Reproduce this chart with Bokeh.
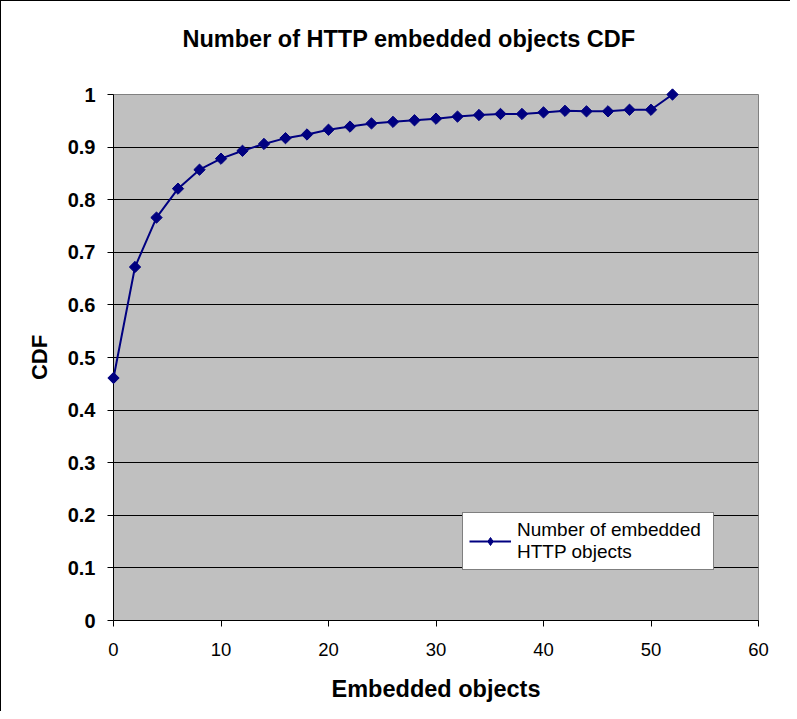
import numpy as np
from bokeh.plotting import figure
from bokeh.models import Range1d, FixedTicker, Legend, LegendItem, Title
from bokeh.embed import file_html
from bokeh.resources import INLINE

# ---- data ----
objects = [0, 2, 4, 6, 8, 10, 12, 14, 16, 18, 20, 22, 24, 26, 28, 30, 32, 34,
           36, 38, 40, 42, 44, 46, 48, 50, 52]
cdf = [0.461, 0.672, 0.766, 0.821, 0.857, 0.878, 0.893, 0.906, 0.917, 0.924,
       0.933, 0.939, 0.945, 0.948, 0.951, 0.954, 0.958, 0.961, 0.963, 0.963,
       0.966, 0.969, 0.968, 0.968, 0.971, 0.971, 1.0]
x_ticks = [0, 10, 20, 30, 40, 50, 60]
y_ticks = [0, 0.1, 0.2, 0.3, 0.4, 0.5, 0.6, 0.7, 0.8, 0.9, 1]
y_tick_labels = ["0", "0.1", "0.2", "0.3", "0.4", "0.5", "0.6", "0.7", "0.8", "0.9", "1"]
title_text = "Number of HTTP embedded objects CDF"
x_title = "Embedded objects"
y_title = "CDF"
series_name = "Number of embedded\nHTTP objects"

FONT = "Liberation Sans"
NAVY = "#000080"

p = figure(width=790, height=711, output_backend="svg", toolbar_location=None,
           x_range=Range1d(0, 60), y_range=Range1d(0, 1),
           min_border_left=112, min_border_right=33,
           min_border_top=93, min_border_bottom=92)

p.background_fill_color = "#C0C0C0"
p.border_fill_color = "white"
p.outline_line_color = "#808080"
p.outline_line_width = 1

# spacer panel between the frame and the title
spacer = Title(text=" ", text_font_size="1px", standoff=35)
p.add_layout(spacer, "above")
t = Title(text=title_text, align="left", offset=69, standoff=10,
          text_font=FONT, text_font_size="23.5px", text_font_style="bold",
          text_color="black")
p.add_layout(t, "above")

# axes
p.xaxis.ticker = FixedTicker(ticks=x_ticks)
p.yaxis.ticker = FixedTicker(ticks=y_ticks)
p.yaxis.major_label_overrides = {v: s for v, s in zip(y_ticks, y_tick_labels)}
for ax in (p.xaxis, p.yaxis):
    ax.axis_line_color = "black"
    ax.axis_line_width = 1
    ax.major_tick_line_color = "black"
    ax.major_tick_in = 0
    ax.major_tick_out = 6
    ax.minor_tick_line_color = None
    ax.axis_label_text_font = FONT
    ax.axis_label_text_font_style = "bold"
    ax.axis_label_text_color = "black"
    ax.major_label_text_font = FONT
    ax.major_label_text_color = "black"

p.xaxis.major_label_text_font_size = "18.5px"
p.xaxis.major_label_text_font_style = "normal"
p.xaxis.major_label_standoff = 16
p.xaxis.axis_label = x_title
p.xaxis.axis_label_text_font_size = "23.5px"
p.xaxis.axis_label_standoff = 17

p.yaxis.major_label_text_font_size = "20px"
p.yaxis.major_label_text_font_style = "bold"
p.yaxis.major_label_standoff = 12
p.yaxis.axis_label = y_title
p.yaxis.axis_label_text_font_size = "22px"
p.yaxis.axis_label_standoff = 13

p.xgrid.grid_line_color = None
p.ygrid.grid_line_color = "black"
p.ygrid.grid_line_width = 1

ln = p.line(objects, cdf, line_color=NAVY, line_width=2)
# legend key marker: a diamond hidden under the first plotted point
key = p.scatter(objects[:1], cdf[:1], marker="diamond", size=11,
                fill_color=NAVY, line_color=NAVY)
sc = p.scatter(objects, cdf, marker="square", angle=np.pi / 4, size=8,
               fill_color=NAVY, line_color=NAVY, level="overlay")

legend = Legend(items=[LegendItem(label=series_name, renderers=[ln, key])],
                location=(349, 50))
legend.label_text_font = FONT
legend.label_text_font_size = "19px"
legend.label_text_color = "black"
legend.border_line_color = "black"
legend.border_line_width = 1
legend.background_fill_color = "white"
legend.background_fill_alpha = 1
legend.glyph_width = 42
legend.padding = 6
legend.margin = 0
legend.label_standoff = 6
legend.label_width = 190
p.add_layout(legend, "center")

p.styles = {"border-left": "1px solid black", "border-top": "1px solid black"}

open("out.html", "w").write(file_html(p, INLINE))
